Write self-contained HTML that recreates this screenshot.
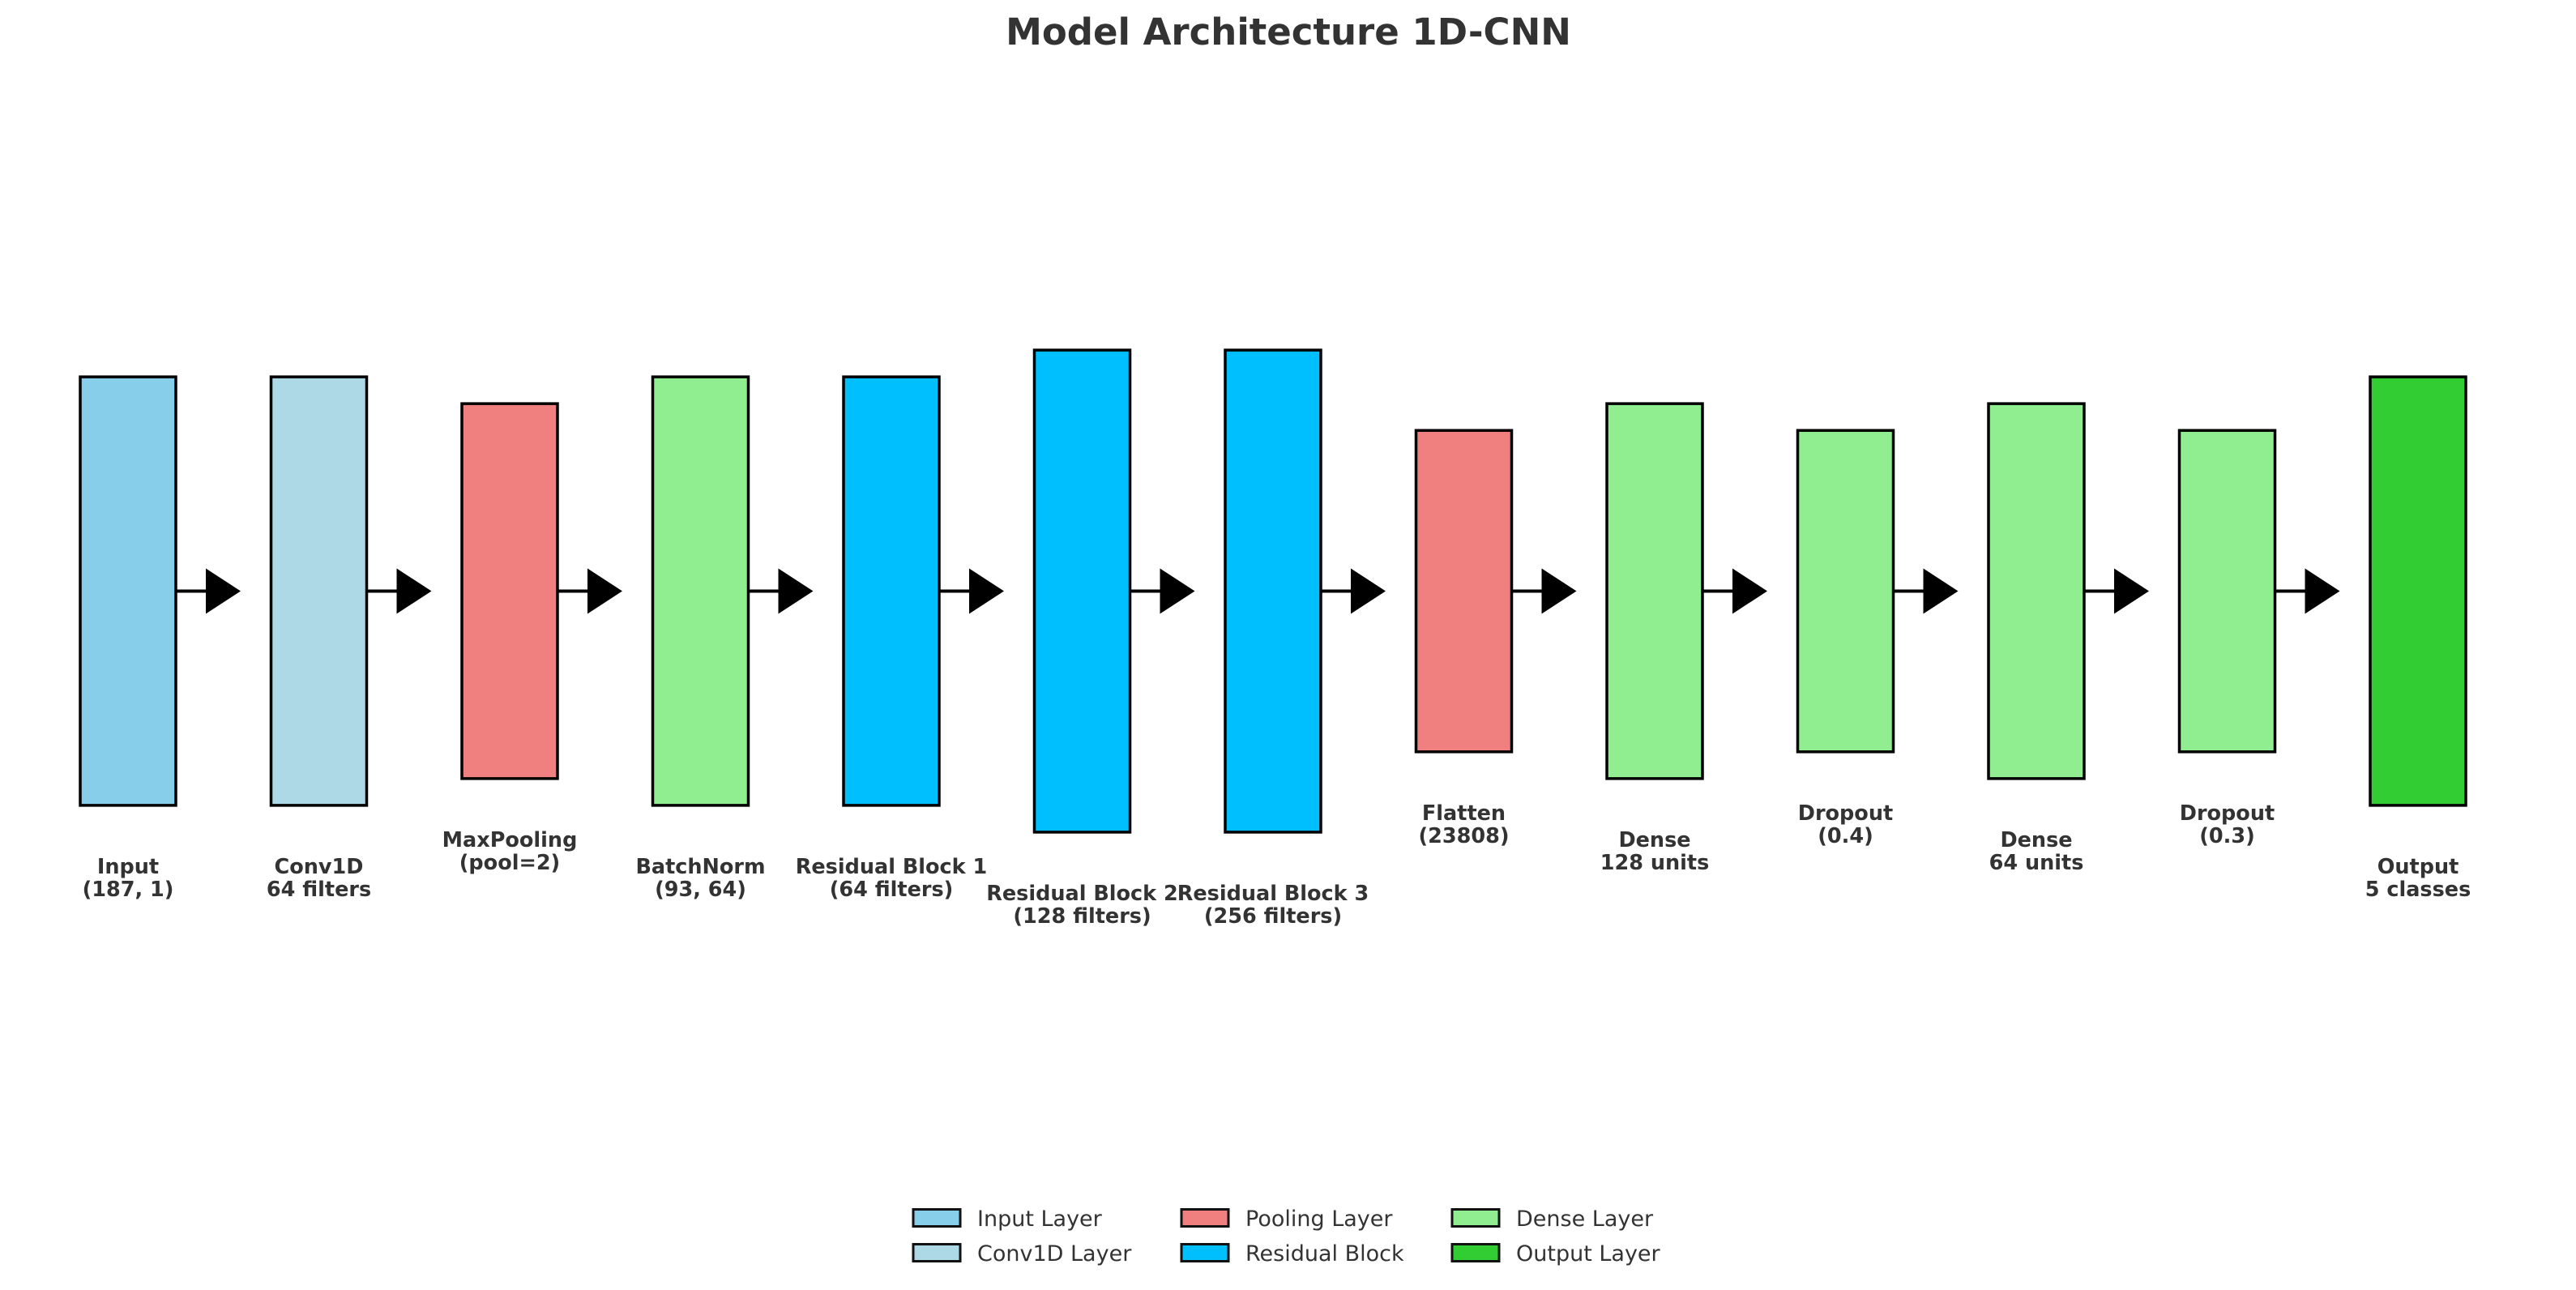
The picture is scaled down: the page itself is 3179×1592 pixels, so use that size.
<!DOCTYPE html>
<html><head><meta charset="utf-8"><style>
html,body{margin:0;padding:0;background:#fff;}
svg{display:block;}
text{font-family:"DejaVu Sans","Liberation Sans",sans-serif;}
</style></head><body>
<svg id="chart" width="3179" height="1592" viewBox="0 0 3179 1592" xmlns="http://www.w3.org/2000/svg">
<text x="1590" y="55" text-anchor="middle" font-size="45" font-weight="bold" fill="#333">Model Architecture 1D-CNN</text>
<g id="layers"></g>
<g id="legend"></g>
</svg>
<script>
const layerNames = ["Input","Conv1D","MaxPooling","BatchNorm","Residual Block 1","Residual Block 2","Residual Block 3","Flatten","Dense","Dropout","Dense","Dropout","Output"];
const layerDetails = ["(187, 1)","64 filters","(pool=2)","(93, 64)","(64 filters)","(128 filters)","(256 filters)","(23808)","128 units","(0.4)","64 units","(0.3)","5 classes"];
const layerHeights = [8,8,7,8,8,9,9,6,7,6,7,6,8];
const layerColors = ["#87CEEB","#ADD8E6","#F08080","#90EE90","#00BFFF","#00BFFF","#00BFFF","#F08080","#90EE90","#90EE90","#90EE90","#90EE90","#32CD32"];
const legendLabels = ["Input Layer","Conv1D Layer","Pooling Layer","Residual Block","Dense Layer","Output Layer"];
const legendColors = ["#87CEEB","#ADD8E6","#F08080","#00BFFF","#90EE90","#32CD32"];

const NS="http://www.w3.org/2000/svg";
const x0=158, dx=235.5, cy=729.5, unit=66.1, bw=118;
function xc(i){return x0+i*dx;}
function hpx(v){return v*unit;}
const g=document.getElementById('layers');
layerNames.forEach((n,i)=>{
  const h=hpx(layerHeights[i]), x=xc(i)-bw/2, top=cy-h/2, bot=cy+h/2;
  const r=document.createElementNS(NS,'rect');
  
  
  r.setAttribute('x',x);r.setAttribute('y',top);r.setAttribute('width',bw);r.setAttribute('height',h);
  r.setAttribute('fill',layerColors[i]);r.setAttribute('stroke','#000');r.setAttribute('stroke-width','3.5');
  g.appendChild(r);
  const t=document.createElementNS(NS,'text');
  
  
  t.setAttribute('x',xc(i));t.setAttribute('text-anchor','middle');t.setAttribute('font-size','25.5');t.setAttribute('font-weight','bold');t.setAttribute('fill','#333');
  const s1=document.createElementNS(NS,'tspan');s1.setAttribute('x',xc(i));s1.setAttribute('y',bot+84);s1.textContent=n;
  const s2=document.createElementNS(NS,'tspan');s2.setAttribute('x',xc(i));s2.setAttribute('y',bot+112);s2.textContent=layerDetails[i];
  t.appendChild(s1);t.appendChild(s2);g.appendChild(t);
  if(i<layerNames.length-1){
    const xr=xc(i)+bw/2;
    const l=document.createElementNS(NS,'line');
    
    
    l.setAttribute('x1',xr);l.setAttribute('x2',xr+38);l.setAttribute('y1',cy);l.setAttribute('y2',cy);
    l.setAttribute('stroke','#000');l.setAttribute('stroke-width','4');g.appendChild(l);
    const p=document.createElementNS(NS,'polygon');
    
    
    p.setAttribute('points',`${xr+37},${cy-28} ${xr+80},${cy} ${xr+37},${cy+28}`);
    p.setAttribute('fill','#000');g.appendChild(p);
  }
});
const lg=document.getElementById('legend');
const colX=[1127,1458,1792], rowY=[1503,1546];
legendLabels.forEach((lab,i)=>{
  const c=Math.floor(i/2), r=i%2;
  const b=document.createElementNS(NS,'rect');
  
  
  b.setAttribute('x',colX[c]);b.setAttribute('y',rowY[r]-10.5);b.setAttribute('width',58);b.setAttribute('height',21);
  b.setAttribute('fill',legendColors[i]);b.setAttribute('stroke','#111');b.setAttribute('stroke-width','3');lg.appendChild(b);
  const t=document.createElementNS(NS,'text');
  
  
  t.setAttribute('x',colX[c]+79);t.setAttribute('y',rowY[r]+10);t.setAttribute('font-size','27');t.setAttribute('fill','#333');
  t.textContent=lab;lg.appendChild(t);
});
</script>
</body></html>
